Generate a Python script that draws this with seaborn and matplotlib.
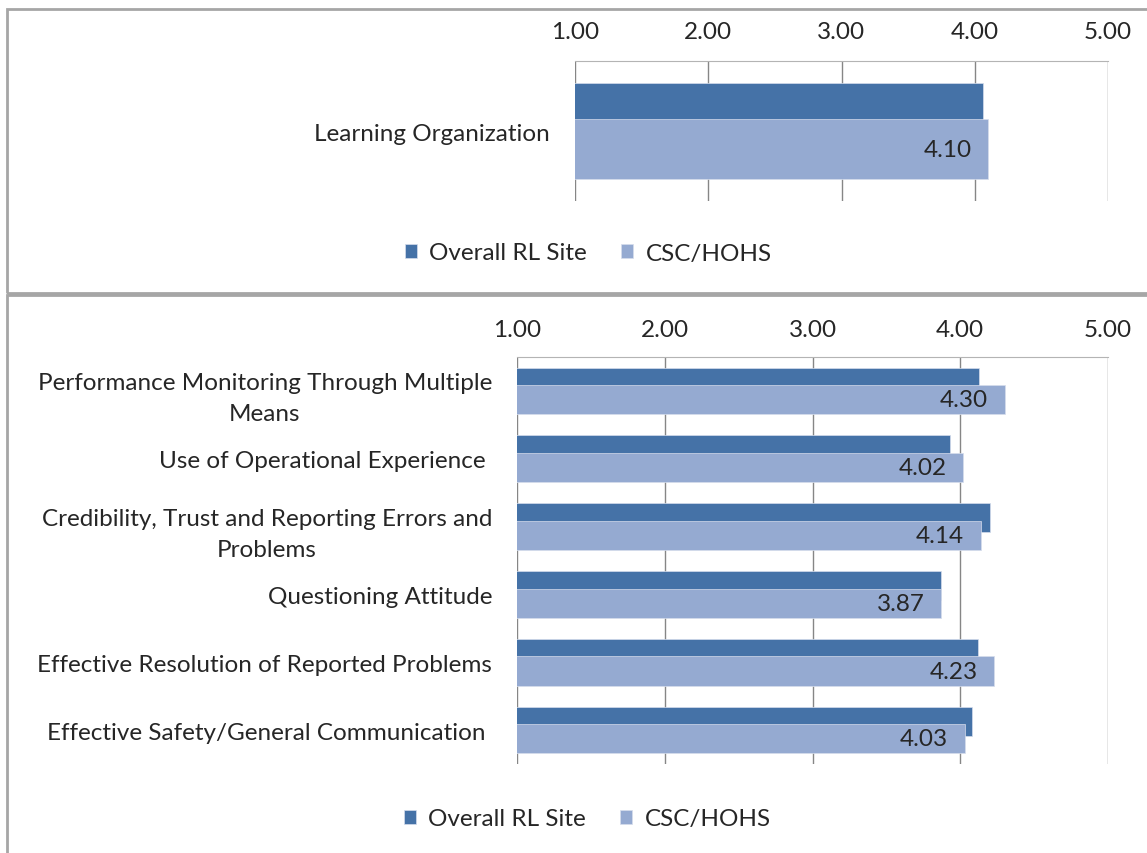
import pandas as pd
import matplotlib.pyplot as plt
import seaborn as sns
from matplotlib.patches import Rectangle

# Data
series = ["Overall RL Site", "CSC/HOHS"]
colors = ["#4572A7", "#95AAD1"]

top_cats = ["Learning Organization"]
top_site = [4.06]
top_csc = [4.10]

bot_cats = ["Performance Monitoring Through Multiple\nMeans",
            "Use of Operational Experience ",
            "Credibility, Trust and Reporting Errors and\nProblems",
            "Questioning Attitude",
            "Effective Resolution of Reported Problems",
            "Effective Safety/General Communication "]
bot_site = [4.13, 3.93, 4.20, 3.87, 4.12, 4.08]
bot_csc = [4.30, 4.02, 4.14, 3.87, 4.23, 4.03]

xticks = [1, 2, 3, 4, 5]

sns.set_style("white")
plt.rcParams["font.family"] = ["Lato", "DejaVu Sans"]
FS = 17.5

W, H = 1147, 854
fig = plt.figure(figsize=(W / 100, H / 100), dpi=100)

# panel borders
fig.add_artist(Rectangle((7 / W, 1 - 294 / H), 1.0, (294 - 10) / H, transform=fig.transFigure,
                         fill=False, edgecolor="#A6A6A6", lw=2))
fig.add_artist(Rectangle((7 / W, -0.05), 1.0, 1 - 296 / H + 0.05, transform=fig.transFigure,
                         fill=False, edgecolor="#A6A6A6", lw=2))


def draw_panel(ax, cats, site, csc, legend_xy, xpad):
    n = len(cats)
    df = pd.DataFrame({"cat": cats * 2,
                       "series": [series[0]] * n + [series[1]] * n,
                       "value": site + csc})
    sns.barplot(data=df, y="cat", x="value", hue="series", palette=colors, orient="h",
                width=0.86, dodge=True, saturation=1, errorbar=None, ax=ax,
                linewidth=0.5, edgecolor="#D6DDEC")

    # excel style 40% overlap
    for i, cont in enumerate(ax.containers):
        for p in cont:
            shift = 0.2 * p.get_height()
            p.set_y(p.get_y() + (shift if i == 0 else -shift))

    texts = ax.bar_label(ax.containers[1], fmt="%.2f", padding=-12, fontsize=FS)
    for t in texts:
        t.set_ha("right")

    ax.set_xlim(1, 5)
    ax.set_xticks(xticks)
    ax.xaxis.set_major_formatter("{x:.2f}")
    ax.xaxis.tick_top()
    ax.tick_params(axis="x", length=0, pad=xpad, labelsize=FS)
    ax.tick_params(axis="y", length=0, pad=18, labelsize=FS)
    for lbl in ax.get_yticklabels():
        lbl.set_multialignment("center")
        lbl.set_linespacing(1.6)
    ax.grid(axis="x", color="#868686", lw=1)
    ax.set_axisbelow(True)
    for s in ["left", "right", "bottom"]:
        ax.spines[s].set_visible(False)
    ax.spines["top"].set_color("#B4B4B4")
    ax.set_xlabel("")
    ax.set_ylabel("")

    handles, labels = ax.get_legend_handles_labels()
    ax.get_legend().remove()
    ax.legend(handles, labels, loc="center", bbox_to_anchor=legend_xy,
              bbox_transform=fig.transFigure, ncol=2, frameon=False, fontsize=FS,
              handlelength=0.5, handleheight=0.5, handletextpad=0.5, columnspacing=1.4)


ax1 = fig.add_axes([575 / W, 1 - 202 / H, (1108 - 575) / W, 140 / H])
draw_panel(ax1, top_cats, top_site, top_csc, (0.513, 1 - 254 / H), 14)

ax2 = fig.add_axes([517 / W, 1 - 765 / H, (1108 - 517) / W, (765 - 358) / H])
draw_panel(ax2, bot_cats, bot_site, bot_csc, (0.512, 1 - 820 / H), 12)

plt.savefig("out.png", dpi=100)
